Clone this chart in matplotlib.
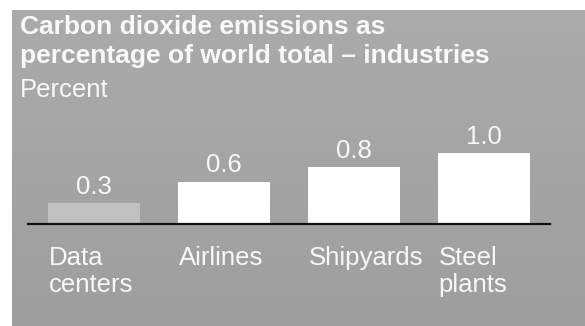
import matplotlib
matplotlib.use("Agg")
import matplotlib.pyplot as plt
import numpy as np

categories = ["Data\ncenters", "Airlines", "Shipyards", "Steel\nplants"]
values = [0.3, 0.6, 0.8, 1.0]
value_labels = ["0.3", "0.6", "0.8", "1.0"]
bar_colors = ["#c0c0c0", "#ffffff", "#ffffff", "#ffffff"]
title_lines = ["Carbon dioxide emissions as", "percentage of world total \u2013 industries"]
subtitle = "Percent"

plt.rcParams['font.family'] = ['Liberation Sans', 'DejaVu Sans']

W, H = 585, 326
fig = plt.figure(figsize=(W / 100, H / 100), dpi=100)
fig.patch.set_facecolor("white")

# background panel with slight vertical gradient
bg = fig.add_axes([12 / W, 0, 1 - 12 / W, 1 - 10 / H])
grad = np.linspace(0.67, 0.62, 256).reshape(-1, 1)
bg.imshow(np.dstack([grad, grad, grad]), aspect="auto", extent=[0, 1, 0, 1])
bg.set_axis_off()

ax = fig.add_axes([28 / W, (H - 224) / H, (550 - 28) / W, 106 / H])
ax.set_facecolor("none")
x = np.arange(len(categories))
w = 0.71
ax.bar(x, values, width=w, color=bar_colors, zorder=2)
for xi, v, lab in zip(x, values, value_labels):
    ax.annotate(lab, (xi, v), xytext=(0, 3), textcoords="offset points",
                ha="center", va="bottom", color="#f8f8f8", fontsize=18.5)
ax.set_xlim(-0.508, 3.508)
ax.set_ylim(0, 1.5)
for s in ["top", "right", "left"]:
    ax.spines[s].set_visible(False)
ax.spines["bottom"].set_color("#111111")
ax.spines["bottom"].set_linewidth(1.6)
ax.set_yticks([])
ax.set_xticks(x - w / 2 + 0.005)
ax.set_xticklabels(categories, ha="left", va="top", fontsize=18.5, color="#f8f8f8",
                   linespacing=1.17)
ax.tick_params(axis="x", length=0, pad=15.5)

fig.text(20 / W, 1 - 34 / H, title_lines[0], fontsize=19, fontweight="bold",
         color="#f8f8f8", va="baseline", ha="left")
fig.text(20 / W, 1 - 63 / H, title_lines[1], fontsize=19, fontweight="bold",
         color="#f8f8f8", va="baseline", ha="left")
fig.text(20 / W, 1 - 97 / H, subtitle, fontsize=18.5, color="#f8f8f8",
         va="baseline", ha="left")

fig.savefig("out.png", dpi=100)
